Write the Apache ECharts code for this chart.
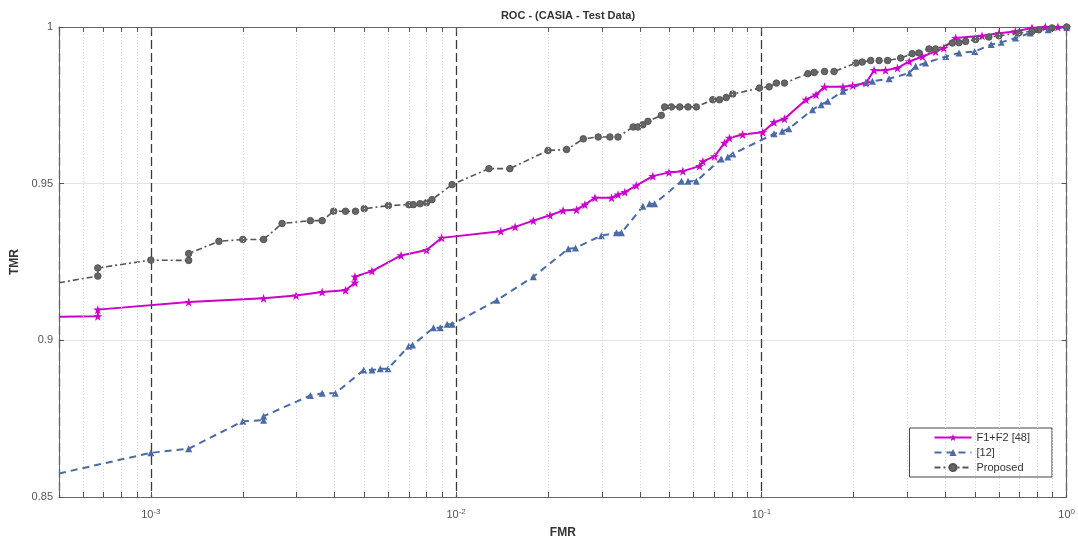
<!DOCTYPE html>
<html><head><meta charset="utf-8">
<script src="https://cdn.jsdelivr.net/npm/echarts@6/dist/echarts.min.js"></script>
<style>html,body{margin:0;padding:0;background:#fff}#c{width:1078px;height:544px}</style>
</head><body><div id="c"></div>
<script>
// ---- data ----
const seriesNames = ['F1+F2 [48]', '[12]', 'Proposed'];

const f1f2FMR = [5.0e-4, 6.7e-4, 6.7e-4, 1.33e-3, 2.34e-3, 2.99e-3, 3.64e-3, 4.34e-3, 4.66e-3, 4.66e-3,
  5.30e-3, 6.6e-3, 8.0e-3, 8.97e-3, 1.40e-2, 1.56e-2, 1.79e-2, 2.03e-2, 2.24e-2, 2.48e-2,
  2.64e-2, 2.85e-2, 3.23e-2, 3.39e-2, 3.57e-2, 3.89e-2, 4.41e-2, 4.98e-2, 5.53e-2, 6.27e-2,
  6.43e-2, 7.02e-2, 7.57e-2, 7.86e-2, 8.68e-2, 0.101, 0.110, 0.119, 0.140, 0.151,
  0.161, 0.185, 0.199, 0.220, 0.234, 0.255, 0.279, 0.305, 0.337, 0.372,
  0.396, 0.433, 0.528, 0.600, 0.679, 0.770, 0.851, 0.936, 1.0];
const f1f2TMR = [0.9075, 0.9077, 0.9098, 0.9122, 0.9134, 0.9143, 0.9154, 0.9160, 0.9184, 0.9203,
  0.9221, 0.9271, 0.9288, 0.9327, 0.9348, 0.9362, 0.9382, 0.9399, 0.9414, 0.9417,
  0.9433, 0.9455, 0.9455, 0.9465, 0.9473, 0.9494, 0.9524, 0.9536, 0.9540, 0.9556,
  0.9571, 0.9587, 0.9630, 0.9646, 0.9657, 0.9664, 0.9696, 0.9707, 0.9768, 0.9784,
  0.9809, 0.9809, 0.9813, 0.9821, 0.9862, 0.9862, 0.9869, 0.9890, 0.9906, 0.9922,
  0.9933, 0.9965, 0.9972, 0.9980, 0.9986, 0.9997, 1.0, 1.0, 1.0];

const ref12FMR = [5.0e-4, 1.0e-3, 1.33e-3, 2.0e-3, 2.34e-3, 2.34e-3, 3.33e-3, 3.64e-3, 4.02e-3, 4.98e-3,
  5.30e-3, 5.64e-3, 5.98e-3, 6.99e-3, 7.2e-3, 8.43e-3, 8.87e-3, 9.34e-3, 9.70e-3, 1.36e-2,
  1.79e-2, 2.33e-2, 2.46e-2, 2.99e-2, 3.35e-2, 3.48e-2, 4.09e-2, 4.30e-2, 4.47e-2, 5.47e-2,
  5.75e-2, 6.12e-2, 7.38e-2, 7.76e-2, 8.06e-2, 0.110, 0.117, 0.123, 0.147, 0.157,
  0.165, 0.185, 0.220, 0.231, 0.262, 0.305, 0.320, 0.345, 0.402, 0.444,
  0.500, 0.566, 0.610, 0.680, 0.760, 0.870, 1.0];
const ref12TMR = [0.8575, 0.8641, 0.8654, 0.8742, 0.8745, 0.8758, 0.8824, 0.8831, 0.8831, 0.8905,
  0.8905, 0.8909, 0.8909, 0.8981, 0.8985, 0.9040, 0.9040, 0.9051, 0.9051, 0.9128,
  0.9203, 0.9292, 0.9295, 0.9334, 0.9343, 0.9343, 0.9428, 0.9436, 0.9436, 0.9508,
  0.9508, 0.9508, 0.9579, 0.9585, 0.9595, 0.9659, 0.9667, 0.9675, 0.9736, 0.9752,
  0.9763, 0.9795, 0.9823, 0.9827, 0.9835, 0.9853, 0.9875, 0.9885, 0.9906, 0.9917,
  0.9922, 0.9944, 0.9951, 0.9965, 0.9981, 0.9991, 1.0];

const propFMR = [5.0e-4, 6.7e-4, 6.7e-4, 1.0e-3, 1.33e-3, 1.33e-3, 1.67e-3, 2.0e-3, 2.34e-3, 2.69e-3,
  3.33e-3, 3.64e-3, 3.97e-3, 4.34e-3, 4.68e-3, 5.0e-3, 6.0e-3, 7.0e-3, 7.24e-3, 7.62e-3,
  8.0e-3, 8.33e-3, 9.7e-3, 1.28e-2, 1.50e-2, 2.0e-2, 2.30e-2, 2.61e-2, 2.92e-2, 3.19e-2,
  3.39e-2, 3.80e-2, 3.94e-2, 4.09e-2, 4.25e-2, 4.70e-2, 4.82e-2, 5.07e-2, 5.40e-2, 5.75e-2,
  6.12e-2, 6.93e-2, 7.29e-2, 7.67e-2, 8.06e-2, 0.0985, 0.106, 0.112, 0.119, 0.142,
  0.149, 0.161, 0.173, 0.204, 0.214, 0.228, 0.243, 0.259, 0.286, 0.312,
  0.328, 0.354, 0.372, 0.422, 0.444, 0.467, 0.503, 0.556, 0.600, 0.697,
  0.770, 0.810, 0.895, 1.0];
const propTMR = [0.9184, 0.9205, 0.9231, 0.9256, 0.9255, 0.9277, 0.9316, 0.9322, 0.9322, 0.9373,
  0.9382, 0.9382, 0.9412, 0.9412, 0.9412, 0.9420, 0.9430, 0.9433, 0.9433, 0.9436,
  0.9439, 0.9449, 0.9497, 0.9548, 0.9548, 0.9606, 0.9609, 0.9643, 0.9649, 0.9649,
  0.9649, 0.9681, 0.9681, 0.9688, 0.9699, 0.9718, 0.9745, 0.9745, 0.9745, 0.9745,
  0.9745, 0.9768, 0.9768, 0.9775, 0.9786, 0.9805, 0.9809, 0.9821, 0.9821, 0.9851,
  0.9855, 0.9858, 0.9858, 0.9885, 0.9888, 0.9893, 0.9893, 0.9893, 0.9901, 0.9915,
  0.9917, 0.9930, 0.9930, 0.9949, 0.9950, 0.9954, 0.9960, 0.9968, 0.9972, 0.9981,
  0.9986, 0.9991, 0.9997, 1.0];

const decadeExps = [-3, -2, -1, 0];          // x tick labels 10^e
const minorMantissas = [2, 3, 4, 5, 6, 7, 8, 9];
const X_MIN = 0.0005, X_MAX = 1, Y_MIN = 0.85, Y_MAX = 1;

// ---- build ----
// the first point of each curve sits on the left frame and carries no marker
const zip = (xs, ys) => xs.map((x, i) => (i === 0 ? { value: [x, ys[i]], symbol: 'none' } : [x, ys[i]]));
const minorVals = [];
for (let e = -4; e <= -1; e++) {
  for (const m of minorMantissas) {
    const v = m * Math.pow(10, e);
    if (v > X_MIN * 1.0001 && v < X_MAX * 0.9999) minorVals.push(v);
  }
}
const tickLen = (Y_MAX - Y_MIN) * 5 / 470;
const minorGrid = minorVals.map(v => [{ coord: [v, Y_MIN] }, { coord: [v, Y_MAX] }]);
const minorTicks = [];
minorVals.forEach(v => {
  minorTicks.push([{ coord: [v, Y_MIN] }, { coord: [v, Y_MIN + tickLen] }]);
  minorTicks.push([{ coord: [v, Y_MAX] }, { coord: [v, Y_MAX - tickLen] }]);
});

function decadeLabel(v) {
  const l = Math.log10(v);
  const e = Math.round(l);
  if (Math.abs(l - e) > 1e-6 || decadeExps.indexOf(e) < 0) return '';
  return '10{s|' + e + '}';
}

const FONT = '"Liberation Sans", Arial, sans-serif';
const labelRich = {
  s: { fontSize: 8, verticalAlign: 'top', color: '#555', fontFamily: FONT, lineHeight: 8 }
};

const star = 'path://M0,-10L2.35,-3.24L9.51,-3.09L3.8,1.24L5.88,8.09L0,4L-5.88,8.09L-3.8,1.24L-9.51,-3.09L-2.35,-3.24Z';

const option = {
  animation: false,
  backgroundColor: '#fff',
  textStyle: { fontFamily: FONT },
  title: {
    text: 'ROC - (CASIA - Test Data)',
    left: 563, top: 5, textAlign: 'center',
    textStyle: { fontSize: 11, fontWeight: 'bold', color: '#333', fontFamily: FONT }
  },
  grid: { left: 59, right: 10, top: 27, bottom: 47 },
  legend: {
    data: seriesNames,
    orient: 'vertical',
    right: 26, bottom: 67,
    padding: [4, 22, 4, 24],
    itemWidth: 37, itemHeight: 9, itemGap: 4,
    borderColor: '#444', borderWidth: 1, backgroundColor: '#fff',
    textStyle: { fontSize: 11, color: '#333', fontFamily: FONT }
  },
  xAxis: [{
    type: 'log', logBase: 10, min: X_MIN, max: X_MAX,
    name: 'FMR', nameLocation: 'middle', nameGap: 30,
    nameTextStyle: { fontSize: 12, fontWeight: 'bold', color: '#333', fontFamily: FONT },
    axisLine: { lineStyle: { color: '#666', width: 1 } },
    axisTick: { inside: true, length: 5, lineStyle: { color: '#555' } },
    axisLabel: {
      formatter: decadeLabel, fontSize: 11, color: '#555', margin: 11,
      fontFamily: FONT, lineHeight: 14, rich: labelRich, showMinLabel: true, showMaxLabel: true
    },
    splitLine: { show: true, lineStyle: { color: '#3a3a3a', width: 1.3, type: [9, 4] } },
    minorTick: { show: false }
  }, {
    type: 'log', logBase: 10, min: X_MIN, max: X_MAX, position: 'top',
    axisLine: { lineStyle: { color: '#666', width: 1 } },
    axisTick: { inside: true, length: 5, lineStyle: { color: '#555' } },
    axisLabel: { show: false }, splitLine: { show: false }
  }],
  yAxis: [{
    type: 'value', min: Y_MIN, max: Y_MAX, interval: 0.05,
    name: 'TMR', nameLocation: 'middle', nameGap: 37, nameRotate: 90,
    nameTextStyle: { fontSize: 12, fontWeight: 'bold', color: '#333', fontFamily: FONT },
    axisLine: { show: true, lineStyle: { color: '#666', width: 1 } },
    axisTick: { show: true, inside: true, length: 5, lineStyle: { color: '#555' } },
    axisLabel: { fontSize: 11, color: '#555', margin: 6, fontFamily: FONT },
    splitLine: { show: true, lineStyle: { color: '#e3e3e3', width: 1 } }
  }, {
    type: 'value', min: Y_MIN, max: Y_MAX, interval: 0.05, position: 'right',
    axisLine: { show: true, lineStyle: { color: '#666', width: 1 } },
    axisTick: { show: true, inside: true, length: 5, lineStyle: { color: '#555' } },
    axisLabel: { show: false }, splitLine: { show: false }
  }],
  series: [
    {
      name: '_grid', type: 'line', data: [], silent: true, z: 1,
      markLine: {
        silent: true, symbol: ['none', 'none'], label: { show: false },
        lineStyle: { color: '#d4d4d4', width: 1, type: [1, 2] },
        data: minorGrid
      }
    },
    {
      name: '_ticks', type: 'line', data: [], silent: true, z: 1,
      markLine: {
        silent: true, symbol: ['none', 'none'], label: { show: false },
        lineStyle: { color: '#555', width: 1, type: 'solid' },
        data: minorTicks
      }
    },
    {
      name: seriesNames[0], type: 'line', data: zip(f1f2FMR, f1f2TMR),
      symbol: star, symbolSize: 9, showAllSymbol: true, clip: false, z: 3,
      lineStyle: { color: '#cc00cc', width: 2 },
      itemStyle: { color: '#cc00cc' }
    },
    {
      name: seriesNames[1], type: 'line', data: zip(ref12FMR, ref12TMR),
      symbol: 'triangle', symbolSize: 7, showAllSymbol: true, z: 3,
      lineStyle: { color: '#4a6ba6', width: 2, type: [7, 5] },
      itemStyle: { color: '#4a6ba6' }
    },
    {
      name: seriesNames[2], type: 'line', data: zip(propFMR, propTMR),
      symbol: 'circle', symbolSize: 6.5, showAllSymbol: true, z: 4,
      lineStyle: { color: '#555', width: 1.6, type: [6, 3, 2, 3] },
      itemStyle: { color: '#666', borderColor: '#555', borderWidth: 1 }
    }
  ]
};

const chart = echarts.init(document.getElementById('c'), null, { renderer: 'canvas' });
chart.setOption(option);
</script>
</body></html>
